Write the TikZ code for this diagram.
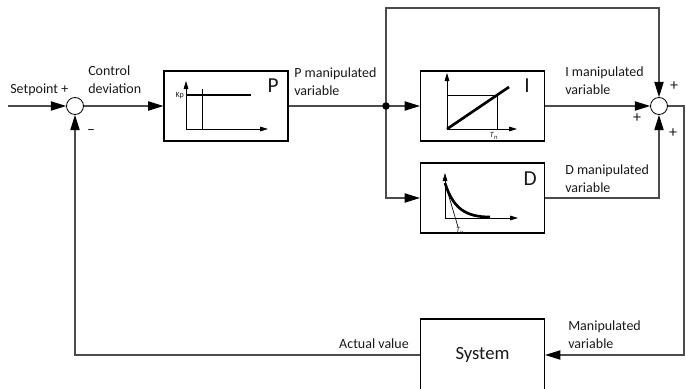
\documentclass[tikz,border=0pt]{standalone}
\usepackage{fontspec}
\setmainfont{Carlito}
\usetikzlibrary{arrows.meta,calc,positioning}
\definecolor{wiregray}{rgb}{0.3,0.3,0.3}
\definecolor{inkgray}{rgb}{0.1,0.1,0.1}

\begin{document}
\begin{tikzpicture}[x=0.75pt,y=-0.75pt,
    font=\fontsize{10.5}{13}\selectfont, text=inkgray,
    block/.style={draw=black, line width=0.9pt, minimum width=93pt, minimum height=52.5pt, inner sep=0pt},
    sumnode/.style={circle, draw=black, line width=0.6pt, minimum size=12.75pt, inner sep=0pt},
    wire/.style={wiregray, line width=0.8pt},
    flow/.style={wire, -{Triangle[length=11.5pt,width=7pt,color=black]}},
    lbl/.style={inner sep=0pt, align=left, anchor=base west},
    sign/.style={font=\fontsize{12}{12}\selectfont, inner sep=0pt},
    axis/.style={black, line width=0.7pt, -{Triangle[length=6pt,width=3.5pt]}},
    curve/.style={black, line width=2pt},
    tiny/.style={font=\fontsize{6}{7}\selectfont, inner sep=0pt},
    letter/.style={font=\fontsize{16}{16}\selectfont, inner sep=0pt, anchor=base east}]
  \useasboundingbox (0,0) rectangle (686,389);
  % Blocks and summing points
  \coordinate (setp) at (8,106);
  \node[sumnode] (sum1) at (75,106) {};
  \node[block] (P) at (226,106) {};
  \coordinate (jct) at (386,106);
  \node[block] (I) at (482.5,106) {};
  \node[block] (D) at (482.5,198) {};
  \node[sumnode] (sum2) at (659,106) {};
  \node[block, minimum height=54pt, font=\fontsize{14}{16}\selectfont] (sys) at (482.5,355) {System};
  \coordinate (topl) at (386,8);
  \coordinate (outr) at (684,106);
  % Connectors
  \draw[flow] (setp) -- (sum1.west);
  \draw[flow] (sum1.east) -- (P.west);
  \draw[wire] (P.east) -- (jct);
  \draw[flow] (jct) -- (I.west);
  \draw[flow] (jct) |- (D.west);
  \draw[flow] (jct) -- (topl) -| (sum2.north);
  \draw[flow] (I.east) -- (sum2.west);
  \draw[flow] (D.east) -| (sum2.south);
  \draw[flow] (sum2.east) -- (outr) |- (sys.east);
  \draw[flow] (sys.west) -| (sum1.south);
  \node[circle, fill=black, minimum size=5.6pt, inner sep=0pt] (dot) at (jct) {};
  % Labels
  \node[lbl] (lsetp) at (10,93) {Setpoint +};
  \node[lbl] (ldev) at (88,93) {Control\\deviation};
  \node[lbl] (lpvar) at (294,95) {P manipulated\\variable};
  \node[lbl] (livar) at (565,94) {I manipulated\\variable};
  \node[lbl] (ldvar) at (565,192) {D manipulated\\variable};
  \node[lbl] (lmvar) at (568,348) {Manipulated\\variable};
  \node[lbl, anchor=base east] (lact) at (409,348) {Actual value};
  \node[sign] (minus) at (91,132) {–};
  \node[sign] (plustop) at (674,86) {+};
  \node[sign] (plusleft) at (637,118) {+};
  \node[sign] (plusbot) at (673,133) {+};
  \node[letter] (lP) at (279,92) {P};
  \node[letter] (lI) at (530,92) {I};
  \node[letter] (lD) at (537,185) {D};
  % P characteristic
  \draw[axis] (186,129) -- (186,81);
  \draw[axis] (186,129) -- (268,129);
  \draw[curve] (186,95) -- (251,95);
  \draw[black, line width=0.5pt] (202,89) -- (202,129);
  \node[tiny, anchor=east] (kp) at (184,96) {Kp};
  % I characteristic
  \draw[axis] (447,129) -- (447,73);
  \draw[axis] (447,129) -- (517,129);
  \draw[black, line width=0.5pt] (447,95) -- (497,95) -- (497,129);
  \draw[curve] (447,129) -- (509,87);
  \node[tiny] (tn) at (494,136) {\textit{T}\textsubscript{n}};
  % D characteristic
  \draw[axis] (445,218) -- (445,173);
  \draw[axis] (445,218) -- (518,218);
  \draw[curve] (445,183) .. controls (453,208) and (465,217) .. (490,217);
  \draw[black, line width=0.5pt] (445,183) -- (458,227);
  \node[tiny] (tv) at (460,231) {\textit{T}\textsubscript{v}};
\end{tikzpicture}
\end{document}
